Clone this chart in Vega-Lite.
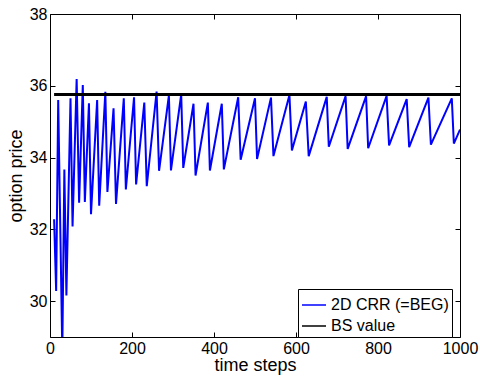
{
  "$schema": "https://vega.github.io/schema/vega-lite/v6.json",
  "width": 410,
  "height": 323,
  "autosize": {"type": "none"},
  "padding": {"left": 50, "top": 14, "right": 20, "bottom": 40},
  "background": "white",
  "config": {
    "view": {"stroke": "black", "strokeWidth": 1},
    "font": "Liberation Sans",
    "axis": {
      "domain": false,
      "grid": false,
      "labelFlush": false,
      "labelOverlap": false,
      "tickColor": "black",
      "tickSize": -5,
      "tickWidth": 1,
      "labelFont": "Liberation Sans",
      "labelFontSize": 16,
      "labelColor": "black",
      "titleFont": "Liberation Sans",
      "titleFontSize": 18,
      "titleFontWeight": "normal",
      "titleColor": "black"
    }
  },
  "datasets": {
    "crr": [
      {"t": 10, "price": 32.28, "series": "2D CRR (=BEG)"},
      {"t": 15, "price": 30.28, "series": "2D CRR (=BEG)"},
      {"t": 20, "price": 35.6, "series": "2D CRR (=BEG)"},
      {"t": 30, "price": 28.6, "series": "2D CRR (=BEG)"},
      {"t": 35, "price": 33.67, "series": "2D CRR (=BEG)"},
      {"t": 40, "price": 30.16, "series": "2D CRR (=BEG)"},
      {"t": 50, "price": 35.65, "series": "2D CRR (=BEG)"},
      {"t": 55, "price": 32.08, "series": "2D CRR (=BEG)"},
      {"t": 65, "price": 36.19, "series": "2D CRR (=BEG)"},
      {"t": 71, "price": 32.74, "series": "2D CRR (=BEG)"},
      {"t": 80, "price": 36.02, "series": "2D CRR (=BEG)"},
      {"t": 85, "price": 32.76, "series": "2D CRR (=BEG)"},
      {"t": 95, "price": 35.51, "series": "2D CRR (=BEG)"},
      {"t": 100, "price": 32.42, "series": "2D CRR (=BEG)"},
      {"t": 115, "price": 35.6, "series": "2D CRR (=BEG)"},
      {"t": 120, "price": 32.66, "series": "2D CRR (=BEG)"},
      {"t": 135, "price": 35.83, "series": "2D CRR (=BEG)"},
      {"t": 140, "price": 33.04, "series": "2D CRR (=BEG)"},
      {"t": 155, "price": 35.37, "series": "2D CRR (=BEG)"},
      {"t": 161, "price": 32.71, "series": "2D CRR (=BEG)"},
      {"t": 180, "price": 35.65, "series": "2D CRR (=BEG)"},
      {"t": 185, "price": 33.11, "series": "2D CRR (=BEG)"},
      {"t": 205, "price": 35.68, "series": "2D CRR (=BEG)"},
      {"t": 210, "price": 33.25, "series": "2D CRR (=BEG)"},
      {"t": 230, "price": 35.53, "series": "2D CRR (=BEG)"},
      {"t": 236, "price": 33.2, "series": "2D CRR (=BEG)"},
      {"t": 260, "price": 35.84, "series": "2D CRR (=BEG)"},
      {"t": 266, "price": 33.63, "series": "2D CRR (=BEG)"},
      {"t": 290, "price": 35.73, "series": "2D CRR (=BEG)"},
      {"t": 295, "price": 33.64, "series": "2D CRR (=BEG)"},
      {"t": 320, "price": 35.76, "series": "2D CRR (=BEG)"},
      {"t": 325, "price": 33.71, "series": "2D CRR (=BEG)"},
      {"t": 350, "price": 35.5, "series": "2D CRR (=BEG)"},
      {"t": 355, "price": 33.5, "series": "2D CRR (=BEG)"},
      {"t": 385, "price": 35.53, "series": "2D CRR (=BEG)"},
      {"t": 390, "price": 33.64, "series": "2D CRR (=BEG)"},
      {"t": 419, "price": 35.5, "series": "2D CRR (=BEG)"},
      {"t": 424, "price": 33.67, "series": "2D CRR (=BEG)"},
      {"t": 459, "price": 35.68, "series": "2D CRR (=BEG)"},
      {"t": 465, "price": 33.94, "series": "2D CRR (=BEG)"},
      {"t": 500, "price": 35.65, "series": "2D CRR (=BEG)"},
      {"t": 505, "price": 33.96, "series": "2D CRR (=BEG)"},
      {"t": 539, "price": 35.67, "series": "2D CRR (=BEG)"},
      {"t": 545, "price": 34.04, "series": "2D CRR (=BEG)"},
      {"t": 584, "price": 35.74, "series": "2D CRR (=BEG)"},
      {"t": 590, "price": 34.2, "series": "2D CRR (=BEG)"},
      {"t": 624, "price": 35.56, "series": "2D CRR (=BEG)"},
      {"t": 631, "price": 34.04, "series": "2D CRR (=BEG)"},
      {"t": 675, "price": 35.69, "series": "2D CRR (=BEG)"},
      {"t": 680, "price": 34.3, "series": "2D CRR (=BEG)"},
      {"t": 721, "price": 35.71, "series": "2D CRR (=BEG)"},
      {"t": 726, "price": 34.24, "series": "2D CRR (=BEG)"},
      {"t": 771, "price": 35.71, "series": "2D CRR (=BEG)"},
      {"t": 776, "price": 34.26, "series": "2D CRR (=BEG)"},
      {"t": 821, "price": 35.72, "series": "2D CRR (=BEG)"},
      {"t": 827, "price": 34.34, "series": "2D CRR (=BEG)"},
      {"t": 870, "price": 35.63, "series": "2D CRR (=BEG)"},
      {"t": 876, "price": 34.29, "series": "2D CRR (=BEG)"},
      {"t": 923, "price": 35.67, "series": "2D CRR (=BEG)"},
      {"t": 929, "price": 34.36, "series": "2D CRR (=BEG)"},
      {"t": 980, "price": 35.65, "series": "2D CRR (=BEG)"},
      {"t": 985, "price": 34.39, "series": "2D CRR (=BEG)"},
      {"t": 1000, "price": 34.78, "series": "2D CRR (=BEG)"}
    ],
    "bs": [
      {"t": 10, "price": 35.76, "series": "BS value"},
      {"t": 1000, "price": 35.76, "series": "BS value"}
    ]
  },
  "layer": [
    {
      "data": {"name": "crr"},
      "mark": {"type": "line", "strokeWidth": 2, "clip": true},
      "encoding": {
        "x": {
          "field": "t",
          "type": "quantitative",
          "scale": {"domain": [0, 1000], "nice": false},
          "axis": {"values": [0, 200, 400, 600, 800, 1000], "format": "d", "title": "time steps", "titleFontSize": 18, "labelPadding": 8, "titlePadding": 0}
        },
        "y": {
          "field": "price",
          "type": "quantitative",
          "scale": {"domain": [29, 38], "nice": false, "zero": false},
          "axis": {"values": [30, 32, 34, 36, 38], "title": "option price", "titleFontSize": 18, "labelPadding": 8, "titlePadding": 4}
        },
        "color": {
          "field": "series",
          "type": "nominal",
          "scale": {"domain": ["2D CRR (=BEG)", "BS value"], "range": ["#0000ff", "#000000"]},
          "legend": {
            "title": null,
            "orient": "none",
            "legendX": 248,
            "legendY": 275,
            "strokeColor": "black",
            "fillColor": "white",
            "padding": 3,
            "symbolType": "stroke",
            "symbolSize": 576,
            "symbolStrokeWidth": 1.5,
            "labelFontSize": 16,
            "labelFont": "Liberation Sans",
            "labelColor": "black",
            "labelOffset": 4,
            "rowPadding": -4.6
          }
        }
      }
    },
    {
      "data": {"name": "bs"},
      "mark": {"type": "line", "strokeWidth": 3},
      "encoding": {
        "x": {
          "field": "t",
          "type": "quantitative",
          "axis": {"orient": "top", "values": [0, 200, 400, 600, 800, 1000], "labels": false, "title": null}
        },
        "y": {
          "field": "price",
          "type": "quantitative",
          "axis": {"orient": "right", "values": [30, 32, 34, 36, 38], "labels": false, "title": null}
        },
        "color": {"field": "series", "type": "nominal"}
      }
    }
  ],
  "resolve": {"axis": {"x": "independent", "y": "independent"}}
}
